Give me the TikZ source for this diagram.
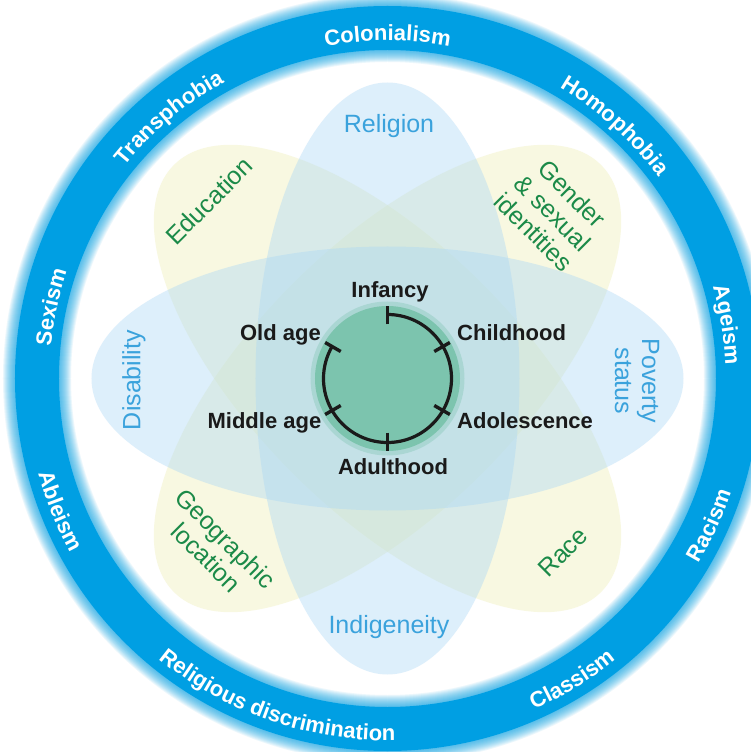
\documentclass[tikz,border=0pt]{standalone}
\usepackage{fontspec}
\setmainfont{Liberation Sans}
\usepackage{xcolor}
\usepackage{tikz}
\usetikzlibrary{decorations.text}
\definecolor{ringblue}{HTML}{009FE3}
\definecolor{petalblue}{HTML}{AAD7F5}
\definecolor{petalyellow}{HTML}{EEEEB4}
\definecolor{coregreen}{HTML}{7CC4AE}
\definecolor{labblue}{HTML}{3AA2DC}
\definecolor{labgreen}{HTML}{1B8A48}
\definecolor{ink}{HTML}{1A1A1A}
\newcommand{\ringfnt}{\bfseries\fontsize{22}{22}\selectfont}
\tikzset{
  bpetal/.style={fill=petalblue, fill opacity=0.4},
  ypetal/.style={fill=petalyellow, fill opacity=0.4},
  glow/.style={draw=ringblue, opacity=0.08},
  ring/.style={draw=ringblue, line width=44pt},
  ringlab/.style={decorate, decoration={text along path, text align=center,
      text color=white, text={|\ringfnt|#1}}},
  life/.style={draw=ink, line width=3.2pt},
  stagetick/.style={draw=ink, line width=3.4pt},
  stage/.style={text=ink, font=\bfseries\fontsize{22}{26}\selectfont, inner sep=0pt},
  bluelab/.style={text=labblue, font=\fontsize{25}{27}\selectfont, align=center, inner sep=0pt},
  greenlab/.style={bluelab, text=labgreen},
}

\begin{document}
\begin{tikzpicture}[x=1pt, y=1pt]
  \useasboundingbox (-387.5,-373.5) rectangle (363.5,378.5);
  \clip (-387.5,-373.5) rectangle (363.5,378.5);
  \fill[white] (-387.5,-373.5) rectangle (363.5,378.5);

  % petals
  \fill[ypetal, rotate=-45] (0,0) ellipse [x radius=302, y radius=134];
  \fill[ypetal, rotate=45] (0,0) ellipse [x radius=302, y radius=134];
  \fill[bpetal] (0,0) ellipse [x radius=296, y radius=132];
  \fill[bpetal] (0,0) ellipse [x radius=132, y radius=296];

  % core
  \fill[coregreen, opacity=0.35] (0,0) circle (77);
  \fill[coregreen] (0,0) circle (72.5);

  % outer ring with its glow
  \foreach \k in {1,...,12}{
    \pgfmathsetmacro\gw{44+2*\k}
    \draw[glow, line width=\gw pt] (0,0) circle (350.5);
  }
  \draw[ring] (0,0) circle (350.5);

  \path[ringlab=Colonialism] (130:338) arc [start angle=130, end angle=50, radius=338];
  \path[ringlab=Transphobia] (170:338) arc [start angle=170, end angle=90, radius=338];
  \path[ringlab=Homophobia] (88:338) arc [start angle=88, end angle=8, radius=338];
  \path[ringlab=Ageism] (49:338) arc [start angle=49, end angle=-31, radius=338];
  \path[ringlab=Sexism] (208:338) arc [start angle=208, end angle=128, radius=338];
  \path[ringlab=Ableism] (162:362) arc [start angle=162, end angle=242, radius=362];
  \path[ringlab=Religious discrimination] (211:362) arc [start angle=211, end angle=291, radius=362];
  \path[ringlab=Classism] (-98.5:362) arc [start angle=-98.5, end angle=-18.5, radius=362];
  \path[ringlab=Racism] (-64.5:362) arc [start angle=-64.5, end angle=15.5, radius=362];

  % life course
  \draw[life] (90:64) arc [start angle=90, end angle=-210, radius=64];
  \foreach \a in {90,30,-30,-90,-150,150}
    \draw[stagetick] (\a:54) -- (\a:72);

  \node[stage, anchor=base] (infancy) at (2.5,80.5) {Infancy};
  \node[stage, anchor=base west] (childhood) at (69.5,37.5) {Childhood};
  \node[stage, anchor=base west] (adolescence) at (69.5,-50) {Adolescence};
  \node[stage, anchor=base] (adulthood) at (5.5,-95.5) {Adulthood};
  \node[stage, anchor=base east] (middleage) at (-66,-50) {Middle age};
  \node[stage, anchor=base east] (oldage) at (-66.5,38) {Old age};

  % petal labels
  \node[bluelab] (religion) at (1.5,252) {Religion};
  \node[bluelab] (indigeneity) at (1.5,-248.5) {Indigeneity};
  \node[bluelab, rotate=90] (disability) at (-253.5,-1.5) {Disability};
  \node[bluelab, rotate=-90] (poverty) at (249.5,-2.5) {Poverty\\status};
  \node[greenlab, rotate=45] (education) at (-178.5,177.5) {Education};
  \node[greenlab, rotate=-45] (gender) at (165.5,165.5) {Gender\\\& sexual\\identities};
  \node[greenlab, rotate=-45] (geography) at (-171.5,-169.5) {Geographic\\location};
  \node[greenlab, rotate=45] (race) at (175.5,-173.5) {Race};
\end{tikzpicture}
\end{document}
